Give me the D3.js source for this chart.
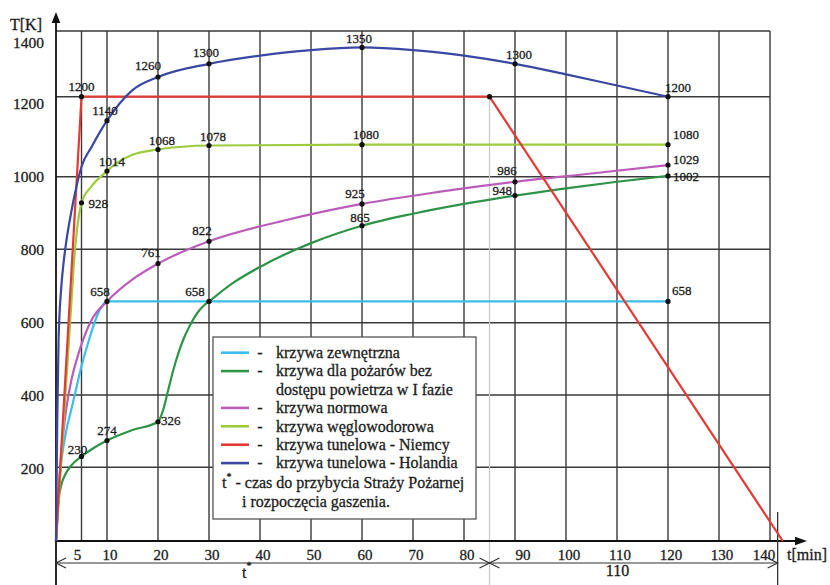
<!DOCTYPE html>
<html><head><meta charset="utf-8">
<script src="https://cdn.jsdelivr.net/npm/d3@7"></script>
<style>
body{margin:0;background:#fff}
svg{display:block}
svg text{stroke:#1c1c1c;stroke-width:0.3px}
</style>
</head><body>
<svg id="c" width="830" height="585" font-family="'Liberation Serif', Tinos, 'DejaVu Serif', serif" fill="#1c1c1c"></svg>
<script>
// ---------- data ----------
const xTicks = [5,10,20,30,40,50,60,70,80,90,100,110,120,130,140];
const yTicks = [200,400,600,800,1000,1200,1400];

// krzywa zewnętrzna
const extTime = [0,0.5,1,2,3,4,5,6,8,9,10,120];
const extTemp = [0,130,210,300,360,420,480,530,617,645,658,658];
const extMarks = [[10,658],[120,658]];

// krzywa dla pożarów bez dostępu powietrza w I fazie
const smTime = [0,0.5,1,2,3,5,7,10,15,20,21,22,23,24,25,26,27,28,29,30,35,40,50,60,70,80,90,100,110,120];
const smTemp = [0,110,150,185,205,230,250,274,303,326,358,414,469,516,555,585,611,632,647,658,711,752,817,865,898,925,948,968,986,1002];
const smMarks = [[5,230],[10,274],[20,326],[30,658],[60,865],[90,948],[120,1002]];

// krzywa normowa
const isoTime = [0,0.5,1,2,3,4,5,7,10,15,20,30,45,60,75,90,105,120];
const isoTemp = [0,130,230,360,440,495,540,608,658,718,761,822,880,925,958,986,1008,1029];
const isoMarks = [[20,761],[30,822],[60,925],[90,986],[120,1029]];

// krzywa węglowodorowa
const hcTime = [0,1,2,3,3.5,4,4.5,5,7,10,12,15,20,30,60,120];
const hcTemp = [0,215,435,650,760,840,893,928,974,1014,1035,1055,1068,1078,1080,1080];
const hcMarks = [[5,928],[10,1014],[20,1068],[30,1078],[60,1080],[120,1080]];

// krzywa tunelowa - Niemcy
const deTime = [0,5,85,142.5];
const deTemp = [0,1200,1200,0];
const deMarks = [[5,1200],[85,1200]];

// krzywa tunelowa - Holandia
const nlTime = [0,0.25,0.5,1,1.5,2,3,4,5,7,10,15,20,30,40,50,60,70,80,90,100,110,120];
const nlTemp = [0,330,550,690,765,820,903,972,1025,1075,1140,1220,1260,1300,1325,1342,1350,1342,1325,1300,1268,1234,1200];
const nlMarks = [[10,1140],[20,1260],[30,1300],[60,1350],[90,1300],[120,1200]];

const tStar = 85;          // t* – czas do przybycia Straży Pożarnej
const tEnd = 141.5;
const dimLabels = ["t", "110"];

const legendLines = [
  "krzywa zewnętrzna",
  "krzywa dla pożarów bez",
  "dostępu powietrza w I fazie",
  "krzywa normowa",
  "krzywa węglowodorowa",
  "krzywa tunelowa - Niemcy",
  "krzywa tunelowa - Holandia"
];
const legendNote = ["- czas do przybycia Straży Pożarnej", "i rozpoczęcia gaszenia."];

// ---------- styles / layout ----------
const series = [
  {key:"ext", t:extTime, v:extTemp, marks:extMarks, color:"#3cbdea", legendRow:0},
  {key:"sm",  t:smTime,  v:smTemp,  marks:smMarks,  color:"#2e9448", legendRow:1},
  {key:"iso", t:isoTime, v:isoTemp, marks:isoMarks, color:"#bb5cbb", legendRow:3},
  {key:"hc",  t:hcTime,  v:hcTemp,  marks:hcMarks,  color:"#9ccb3e", legendRow:4},
  {key:"de",  t:deTime,  v:deTemp,  marks:deMarks,  color:"#e23b33", legendRow:5, linear:true},
  {key:"nl",  t:nlTime,  v:nlTemp,  marks:nlMarks,  color:"#3a47a3", legendRow:6}
];
// label placement: [dx, dy, anchor]
const place = {
  "ext:10":[-7,-10,"middle"], "ext:120":[4,-11,"start"],
  "sm:5":[-4,-7,"middle"], "sm:10":[0,-10,"middle"], "sm:20":[3,-1,"start"],
  "sm:30":[-14,-10,"middle"], "sm:60":[-2,-8,"middle"], "sm:90":[-3,-5,"end"], "sm:120":[5,1,"start"],
  "iso:20":[-7,-11,"middle"], "iso:30":[-7,-11,"middle"], "iso:60":[-7,-10,"middle"],
  "iso:90":[-8,-11,"middle"], "iso:120":[5,-6,"start"],
  "hc:5":[7,1,"start"], "hc:10":[5,-10,"middle"], "hc:20":[4,-9,"middle"], "hc:30":[4,-9,"middle"],
  "hc:60":[4,-10,"middle"], "hc:120":[5,-10,"start"],
  "de:5":[0,-10,"middle"],
  "nl:10":[-2,-10,"middle"], "nl:20":[-10,-12,"middle"], "nl:30":[-3,-11,"middle"],
  "nl:60":[-3,-9,"middle"], "nl:90":[4,-9,"middle"], "nl:120":[-3,-9,"start"]
};
const xTickShift = {5:-4, 90:8, 140:-6};

const svg = d3.select("#c");
const x = d3.scaleLinear().domain([0,140]).range([56,770]);
const y = d3.scaleLinear().domain([0,200,400,600,800,1000,1200,1400])
  .range([541,467.3,395,322.7,249.3,176.7,96.7,31]);
const yLab = d3.scaleLinear().domain([0,1400]).range([541,31]);

const gridC = "#3a3a3a";
// grid
const g = svg.append("g");
g.selectAll("line.v").data(xTicks).join("line")
  .attr("x1",d=>x(d)).attr("x2",d=>x(d)).attr("y1",y(0)).attr("y2",y(1400))
  .attr("stroke",gridC).attr("stroke-width",1.4);
g.selectAll("line.h").data(yTicks).join("line")
  .attr("x1",x(0)).attr("x2",x(140)).attr("y1",d=>y(d)).attr("y2",d=>y(d))
  .attr("stroke",gridC).attr("stroke-width",1.4);

// t* guide line
svg.append("line").attr("x1",x(tStar)).attr("x2",x(tStar)).attr("y1",y(1200)).attr("y2",585)
  .attr("stroke","#c8c8c8").attr("stroke-width",1.2);

// axes
svg.append("line").attr("x1",x(0)).attr("x2",x(0)).attr("y1",585).attr("y2",16)
  .attr("stroke","#111").attr("stroke-width",1.8);
svg.append("path").attr("d",`M${x(0)},12 L${x(0)-4.3},23 L${x(0)+4.3},23 Z`).attr("fill","#111");
svg.append("line").attr("x1",x(0)).attr("x2",800).attr("y1",y(0)).attr("y2",y(0))
  .attr("stroke","#111").attr("stroke-width",1.8);
svg.append("path").attr("d",`M807,${y(0)} L795,${y(0)-4.3} L795,${y(0)+4.3} Z`).attr("fill","#111");
svg.append("line").attr("x1",x(tEnd)).attr("x2",x(tEnd)).attr("y1",512).attr("y2",585)
  .attr("stroke","#333").attr("stroke-width",1.3);

// y tick labels
svg.selectAll("text.yt").data(yTicks).join("text")
  .attr("x",44).attr("y",d=>yLab(d) + (d===1400?12:0)).attr("dy","0.35em")
  .attr("text-anchor","end").attr("font-size",15.5).text(d=>d);
// x tick labels
svg.selectAll("text.xt").data(xTicks).join("text")
  .attr("x",d=>x(d)+(xTickShift[d] ?? 3)).attr("y",555).attr("dy","0.35em")
  .attr("text-anchor","middle").attr("font-size",15).text(d=>d);

svg.append("text").attr("x",10).attr("y",30).attr("font-size",16).text("T[K]");
svg.append("text").attr("x",787).attr("y",560).attr("font-size",16).text("t[min]");

// dimension line
const dy0 = 563;
const dim = svg.append("g").attr("stroke","#333").attr("stroke-width",1.2).attr("fill","none");
dim.append("line").attr("x1",x(0)).attr("x2",x(tEnd)).attr("y1",dy0).attr("y2",dy0);
const chev = (px, dir) => `M${px+dir*10},${dy0-5} L${px},${dy0} L${px+dir*10},${dy0+5}`;
dim.append("path").attr("d",chev(x(0),1));
dim.append("path").attr("d",chev(x(tStar),-1));
dim.append("path").attr("d",chev(x(tStar),1));
dim.append("path").attr("d",chev(x(tEnd),-1));
const tl = svg.append("text").attr("x",x(tStar/2)-26).attr("y",578).attr("font-size",16).attr("text-anchor","middle");
tl.append("tspan").text(dimLabels[0]);
tl.append("tspan").attr("font-size",10).attr("dy",-9).text("*");
svg.append("text").attr("x",(x(tStar)+x(tEnd))/2+(-16)).attr("y",576).attr("font-size",16)
  .attr("text-anchor","middle").text(dimLabels[1]);

// curves
const line = d3.line().x(d=>x(d[0])).y(d=>y(d[1]));
series.forEach(s=>{
  const pts = s.t.map((t,i)=>[t,s.v[i]]);
  svg.append("path").datum(pts)
    .attr("d", line.curve(s.linear ? d3.curveLinear : d3.curveMonotoneX))
    .attr("fill","none").attr("stroke",s.color).attr("stroke-width",2.2)
    .attr("stroke-linejoin","round");
});

// legend
const lg = svg.append("g");
lg.append("rect").attr("x",213).attr("y",337).attr("width",263).attr("height",182)
  .attr("fill","#fff").attr("stroke","#555").attr("stroke-width",1.3);
const rowY = i => 352.7 + i*18.4;
legendLines.forEach((txt,i)=>{
  lg.append("text").attr("x",276).attr("y",rowY(i)).attr("dy","0.33em").attr("font-size",16).text(txt);
});
series.forEach(s=>{
  lg.append("line").attr("x1",221).attr("x2",249).attr("y1",rowY(s.legendRow)).attr("y2",rowY(s.legendRow))
    .attr("stroke",s.color).attr("stroke-width",2.6);
  lg.append("text").attr("x",260).attr("y",rowY(s.legendRow)).attr("dy","0.33em")
    .attr("font-size",16).attr("text-anchor","middle").text("-");
});
const note = lg.append("text").attr("x",222).attr("y",483).attr("dy","0.33em").attr("font-size",16);
note.append("tspan").text("t");
note.append("tspan").attr("font-size",10).attr("dy",-8).text("*");
note.append("tspan").attr("dy",8).text(" " + legendNote[0]);
lg.append("text").attr("x",242).attr("y",502).attr("dy","0.33em").attr("font-size",16).text(legendNote[1]);

// marks and labels
series.forEach(s=>{
  s.marks.forEach(m=>{
    svg.append("circle").attr("cx",x(m[0])).attr("cy",y(m[1])).attr("r",2.6).attr("fill","#111");
    const p = place[s.key+":"+m[0]];
    if(p){
      svg.append("text").attr("x",x(m[0])+p[0]).attr("y",y(m[1])+p[1]).attr("dy","0.35em")
        .attr("text-anchor",p[2]).attr("font-size",13).text(m[1]);
    }
  });
});
</script>
</body></html>
